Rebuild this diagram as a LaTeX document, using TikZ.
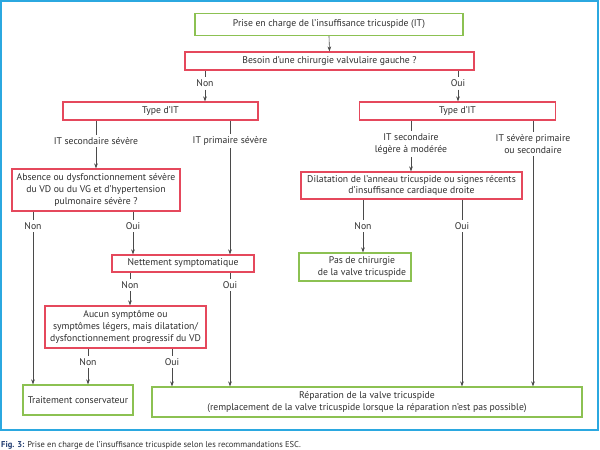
\documentclass[tikz,border=0pt]{standalone}
\usepackage{fontspec}
\setmainfont{PT Sans}
\usetikzlibrary{arrows.meta}
\definecolor{gbox}{HTML}{8CC152}
\definecolor{rbox}{HTML}{E5485C}
\definecolor{frameblue}{HTML}{2BA8E0}
\definecolor{lin}{HTML}{4A4A4A}
\definecolor{txt}{HTML}{2E2E2E}
\definecolor{capblue}{HTML}{1F3A6E}
\begin{document}
\begin{tikzpicture}[x=1pt,y=-1pt,
  every node/.style={text=txt,font=\fontsize{9.7}{11.8}\selectfont},
  gb/.style={draw=gbox,line width=1.2pt,inner sep=0pt,align=center},
  rb/.style={draw=rbox,line width=1.2pt,inner sep=0pt,align=center},
  lbl/.style={inner sep=2.5pt,align=center},
  con/.style={draw=lin,line width=0.6pt},
  arr/.style={con,-{Stealth[length=5pt,width=3.6pt]}}]
\useasboundingbox (0,0) rectangle (600,450);
\draw[frameblue,line width=1.6pt] (1,1) rectangle (598,430);

% boxes
\node[gb,minimum width=268pt,minimum height=22pt] (b1) at (329,24.5) {Prise en charge de l'insuffisance tricuspide (IT)};
\node[rb,minimum width=289pt,minimum height=18pt] (b2) at (329.5,61) {Besoin d'une chirurgie valvulaire gauche ?};
\node[rb,minimum width=195pt,minimum height=18pt] (tl) at (160.5,111) {Type d'IT};
\node[rb,minimum width=196pt,minimum height=18pt] (tr) at (457.5,111) {Type d'IT};
\node[rb,minimum width=168pt,minimum height=42pt] (abs) at (96,190) {Absence ou dysfonctionnement sévère\\du VD ou du VG et d'hypertension\\pulmonaire sévère ?};
\node[rb,minimum width=142pt,minimum height=17pt] (net) at (183,263.5) {Nettement symptomatique};
\node[rb,minimum width=161pt,minimum height=42pt] (auc) at (125.5,327) {Aucun symptôme ou\\symptômes légers, mais dilatation/\\dysfonctionnement progressif du VD};
\node[gb,minimum width=110pt,minimum height=30pt] (trt) at (78,400) {Traitement conservateur};
\node[gb,minimum width=430pt,minimum height=30pt] (rep) at (367,402) {Réparation de la valve tricuspide\\(remplacement de la valve tricuspide lorsque la réparation n'est pas possible)};
\node[rb,minimum width=221pt,minimum height=27pt] (dil) at (411.5,185.5) {Dilatation de l'anneau tricuspide ou signes récents\\d'insuffisance cardiaque droite};
\node[gb,minimum width=112pt,minimum height=28pt] (pas) at (355,267) {\hspace*{14pt}\begin{tabular}{@{}c@{}}Pas de chirurgie\\de la valve tricuspide\end{tabular}};

% labels
\node[lbl] (n1) at (205,83.5) {Non};
\node[lbl] (o1) at (458,83.5) {Oui};
\node[lbl] (l1) at (96,141) {IT secondaire sévère};
\node[lbl] (l2) at (230,141) {IT primaire sévère};
\node[lbl] (l3) at (411,144) {IT secondaire\\légère à modérée};
\node[lbl] (l4) at (533,144) {IT sévère primaire\\ou secondaire};
\node[lbl] (n2) at (33,226) {Non};
\node[lbl] (o2) at (133,226) {Oui};
\node[lbl] (n3) at (363,226) {Non};
\node[lbl] (o3) at (462,226) {Oui};
\node[lbl] (n4) at (130,285) {Non};
\node[lbl] (o4) at (230,285) {Oui};
\node[lbl] (n5) at (88,362) {Non};
\node[lbl] (o5) at (172,362) {Oui};

% connectors
\draw[arr] (b1.south) -- (b2.north);
\draw[con] (b2.south -| n1) -- (n1.north);
\draw[arr] (n1.south) -- (tl.north -| n1);
\draw[con] (b2.south -| o1) -- (o1.north);
\draw[arr] (o1.south) -- (tr.north -| o1);

\draw[con] (tl.south -| l1) -- (l1.north);
\draw[arr] (l1.south) -- (abs.north -| l1);
\draw[con] (tl.south -| l2) -- (l2.north);
\draw[arr] (l2.south) -- (net.north -| l2);

\draw[con] (tr.south -| l3) -- (l3.north);
\draw[arr] (l3.south) -- (dil.north -| l3);
\draw[con] (tr.south -| l4) -- (l4.north);
\draw[arr] (l4.south) -- (rep.north -| l4);

\draw[con] (abs.south -| n2) -- (n2.north);
\draw[arr] (n2.south) -- (trt.north -| n2);
\draw[con] (abs.south -| o2) -- (o2.north);
\draw[arr] (o2.south) -- (net.north -| o2);

\draw[con] (dil.south -| n3) -- (n3.north);
\draw[arr] (n3.south) -- (pas.north -| n3);
\draw[con] (dil.south -| o3) -- (o3.north);
\draw[arr] (o3.south) -- (rep.north -| o3);

\draw[con] (net.south -| n4) -- (n4.north);
\draw[arr] (n4.south) -- (auc.north -| n4);
\draw[con] (net.south -| o4) -- (o4.north);
\draw[arr] (o4.south) -- (rep.north -| o4);

\draw[con] (auc.south -| n5) -- (n5.north);
\draw[arr] (n5.south) -- (trt.north -| n5);
\draw[con] (auc.south -| o5) -- (o5.north);
\draw[arr] (o5.south) -- (rep.north -| o5);

% caption
\node[anchor=west,inner sep=0pt,font=\fontsize{8.5}{10}\selectfont] (cap) at (1,445) {\textcolor{capblue}{\textbf{Fig. 3:}} Prise en charge de l'insuffisance tricuspide selon les recommandations ESC.};
\end{tikzpicture}
\end{document}
